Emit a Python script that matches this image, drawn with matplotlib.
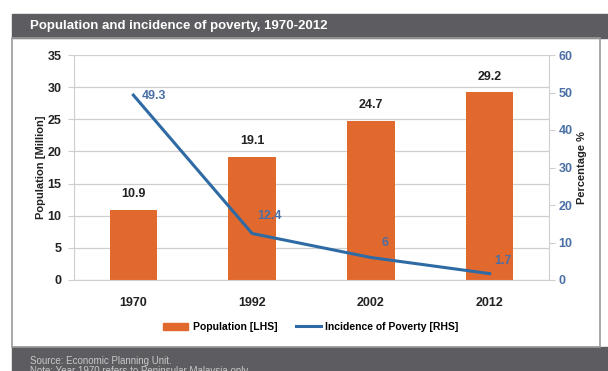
import matplotlib
matplotlib.use("Agg")
import matplotlib.pyplot as plt
from matplotlib.patches import Rectangle
from matplotlib.lines import Line2D

years = ["1970", "1992", "2002", "2012"]
population = [10.9, 19.1, 24.7, 29.2]
poverty = [49.3, 12.4, 6, 1.7]
poverty_labels = ["49.3", "12.4", "6", "1.7"]

plt.rcParams["font.family"] = ["Liberation Sans", "DejaVu Sans"]

ORANGE = "#e2692e"
BLUE = "#2e6aa3"
BLUE_TXT = "#4a6fa5"
DARK = "#222222"
BAR_BG = "#5d5d61"

fig = plt.figure(figsize=(6.08, 3.71), dpi=100)

# frame: title bar, panel border, footer
fig.patches.append(Rectangle((12 / 608, 1 - 38 / 371), 1, 24 / 371, transform=fig.transFigure,
                             color=BAR_BG, zorder=0))
fig.patches.append(Rectangle((12 / 608, 0), 1, 24 / 371, transform=fig.transFigure,
                             color=BAR_BG, zorder=0))
fig.patches.append(Rectangle((12 / 608, 24 / 371), 588 / 608, 309 / 371, transform=fig.transFigure,
                             fill=False, ec="#9a9a9a", lw=1.2, zorder=0))
fig.text(30 / 608, 1 - 26 / 371, "Population and incidence of poverty, 1970-2012",
         color="white", fontsize=9.5, fontweight="bold", va="center")
fig.text(30 / 608, 1 - 361 / 371, "Source: Economic Planning Unit.",
         color="#c8c8c8", fontsize=7, va="center")
fig.text(30 / 608, 1 - 371 / 371, "Note: Year 1970 refers to Peninsular Malaysia only.",
         color="#c8c8c8", fontsize=7, va="center")

ax = fig.add_axes([74 / 608, 1 - 280 / 371, 475 / 608, 225 / 371])
x = range(len(years))
ax.bar(x, population, width=0.4, color=ORANGE, zorder=2)
for xi, v in zip(x, population):
    ax.annotate(f"{v}", (xi, v), xytext=(0, 7), textcoords="offset points",
                ha="center", va="bottom", fontsize=9, fontweight="bold", color=DARK)

ax.set_xlim(-0.5, 3.5)
ax.set_ylim(0, 35)
ax.set_yticks(range(0, 36, 5))
ax.set_xticks(list(x))
ax.set_xticklabels(years)
ax.grid(axis="y", color="#cfcfcf", lw=0.9, zorder=0)
ax.tick_params(axis="x", length=0, pad=12, labelsize=9, labelcolor=DARK)
ax.tick_params(axis="y", length=4, color="#cfcfcf", pad=5, labelsize=9, labelcolor=DARK)
for lab in ax.get_xticklabels() + ax.get_yticklabels():
    lab.set_fontweight("bold")
for s in ["top", "right"]:
    ax.spines[s].set_visible(False)
ax.spines["left"].set_color("#cfcfcf")
ax.spines["bottom"].set_color("#cfcfcf")
ax.set_ylabel("Population [Million]", fontsize=8, fontweight="bold", color=DARK, labelpad=1)

ax2 = ax.twinx()
ax2.plot(list(x), poverty, color=BLUE, lw=2.2, zorder=3)
ax2.set_ylim(0, 60)
ax2.set_yticks(range(0, 61, 10))
ax2.tick_params(axis="y", length=4, color="#cfcfcf", pad=3, labelsize=9, labelcolor=BLUE_TXT)
for lab in ax2.get_yticklabels():
    lab.set_fontweight("bold")
for s in ["top", "left", "bottom"]:
    ax2.spines[s].set_visible(False)
ax2.spines["right"].set_color("#cfcfcf")
ax2.set_ylabel("Percentage %", fontsize=8, fontweight="bold", color=DARK, labelpad=3)

offsets = [(6, -5), (4, 8), (8, 6), (3, 5)]
for xi, v, lab, off in zip(x, poverty, poverty_labels, offsets):
    ax2.annotate(lab, (xi, v), xytext=off, textcoords="offset points",
                 ha="left", va="bottom", fontsize=9, fontweight="bold", color=BLUE_TXT)

handles = [Rectangle((0, 0), 1, 1, color=ORANGE), Line2D([], [], color=BLUE, lw=2.2)]
fig.legend(handles, ["Population [LHS]", "Incidence of Poverty [RHS]"], loc="center",
           bbox_to_anchor=(311 / 608, 1 - 327 / 371), ncol=2, frameon=False,
           prop={"weight": "bold", "size": 7.5}, handlelength=2.4, handletextpad=0.4,
           columnspacing=1.8)

fig.savefig("out.png", dpi=100)
